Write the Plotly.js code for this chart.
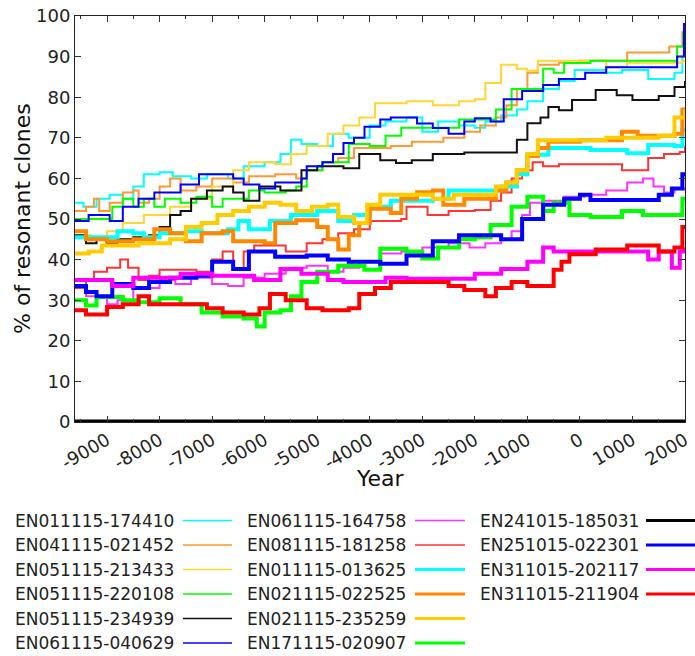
<!DOCTYPE html>
<html><head><meta charset="utf-8">
<script src="https://cdn.plot.ly/plotly-3.0.1.min.js"></script>
<style>html,body{margin:0;padding:0;background:#fff}#chart{width:695px;height:656px}</style>
</head><body><div id="chart"></div>
<script>
// ---------- data ----------
const seriesNames = [
  "EN011115-174410","EN041115-021452","EN051115-213433","EN051115-220108","EN051115-234939","EN061115-040629",
  "EN061115-164758","EN081115-181258","EN011115-013625","EN021115-022525","EN021115-235259","EN171115-020907",
  "EN241015-185031","EN251015-022301","EN311015-202117","EN311015-211904"
];
const xTickValues = [-9000,-8000,-7000,-6000,-5000,-4000,-3000,-2000,-1000,0,1000,2000];
const xTickLabels = ["-9000","-8000","-7000","-6000","-5000","-4000","-3000","-2000","-1000","0","1000","2000"];
const yTickValues = [0,10,20,30,40,50,60,70,80,90,100];
const xTitle = "Year";
const yTitle = "% of resonant clones";

const s01Years = [-9610,-9450,-9200,-8950,-8700,-8500,-8300,-8000,-7750,-7400,-7100,-6700,-6400,-6000,-5700,-5500,-5300,-5000,-4700,-4400,-4000,-3700,-3300,-3000,-2700,-2300,-2000,-1800,-1500,-1200,-1000,-700,-400,-100,200,500,800,1300,1800,1950,2000];
const s01Values = [54,53,55,56,55,58,61,61.5,60.5,60,61,60,63,64,66,69.5,68.5,68,71,70,73,74,75,71.5,74,73,72.5,74,75.5,77,79,82,84,86.7,86.7,86,86.7,84.5,86,90,90];

const s02Years = [-9610,-9400,-9250,-9150,-8950,-8700,-8500,-8400,-8200,-8000,-7800,-7600,-7300,-7000,-6600,-6300,-5800,-5400,-5200,-4900,-4600,-4300,-3600,-3200,-2600,-2200,-1900,-1600,-1400,-1200,-1000,-800,-400,0,600,900,1400,1700,1950,2000];
const s02Values = [52,53,55,52,54,56.5,57,54,55,58,60,57,58,60,59,60.5,61,60,62,64,65,67.5,68,69,70,71.5,73,75,78,82,86,88,88.5,89,89,91,91,92.5,96,96];

const s03Years = [-9610,-9300,-9000,-8700,-8300,-7800,-7400,-7000,-6600,-6300,-5800,-5500,-5200,-4800,-4500,-4200,-3900,-3300,-2800,-2300,-2000,-1800,-1500,-1200,-1000,-800,-300,500,900,1500,1950,2000];
const s03Values = [46,45,47,49,51,53,55,58,62,64,63.5,66,68,71,73,75,78.5,79,78,79,79.5,83.5,88,87,86.5,89,89,87.5,88.5,88.5,89,89];

const s04Years = [-9610,-9000,-8900,-8700,-8500,-8300,-8100,-7900,-7600,-7300,-7000,-6800,-6500,-6300,-6000,-5600,-5400,-5200,-4900,-4500,-4400,-4000,-3700,-3400,-2600,-2300,-1800,-1600,-1300,-900,-700,-500,-300,200,1700,1850,1970,2000];
const s04Values = [50,50,53,55,53,55,53,55,54,55.5,53,55,55,57,56.5,57,58,62,64,64,68.5,68,70.5,72.5,72.5,74.5,74.5,77,82,82,87,86,88.4,89,89,92.5,96,97];

const s05Years = [-9610,-9400,-9200,-9000,-8800,-8500,-8200,-8000,-7800,-7600,-7400,-7100,-6800,-6600,-6400,-6100,-5700,-5300,-5000,-4500,-4200,-3800,-3500,-3200,-2800,-2200,-1400,-1200,-1000,-750,-600,-400,-150,300,700,1000,1500,1800,1950,2000];
const s05Values = [46,44,45,44,45,45.5,46,48,51,52,55,57,58,56.5,54.5,58,57,62,63,62.5,66,64.5,63.8,64.5,66,66.4,66.4,69.5,73.6,75,77.6,76.8,79.3,81.8,80.5,79.3,80.3,82.5,82.5,84];

const s06Years = [-9610,-9350,-8950,-8700,-8400,-8100,-7600,-7250,-6600,-6400,-6100,-5800,-5300,-5200,-4900,-4700,-4500,-4300,-4100,-3800,-3600,-3100,-2800,-2500,-2200,-2000,-1700,-1450,-1100,-700,-400,100,500,1700,1850,1980,2000];
const s06Values = [49.5,51,49.5,53,55,56.5,58.5,61,60,58.5,57.5,59,60,63,64,66,68.7,70,72.7,74.5,75,73.5,72.4,71,74,74.8,74,79.5,81.5,83,84.5,86,87.4,87.4,90,98,98];

const s07Years = [-9610,-9400,-9200,-9000,-8800,-8500,-8200,-8000,-7700,-7400,-7000,-6700,-6400,-6000,-5600,-5200,-4800,-4500,-4200,-3800,-3400,-3000,-2500,-2100,-1800,-1500,-1300,-1100,-950,-700,-300,100,500,900,1200,1400,1600,1800,2000];
const s07Values = [33,31,31,29,30,33,33,35,34,35.5,34,33.5,35.5,36.5,38,38.5,37,38,39.5,41.5,42,43,44,43,44,45,47,51,54,54.5,55.5,56,57,59,60,58,56.5,57.5,57];

const s08Years = [-9610,-9400,-9250,-9000,-8750,-8600,-8400,-8200,-8000,-7600,-7300,-7000,-6800,-6600,-6400,-6200,-5800,-5600,-5200,-4900,-4600,-4300,-4000,-3400,-3300,-2900,-2500,-2000,-1700,-1500,-1300,-1100,-900,-700,-400,400,800,1100,1300,1600,1900,2000];
const s08Values = [33,35,37,38,40,38,35,36,37.5,37.5,37,40,42,37.5,42,43.5,43.5,42,44,45,46.5,47.5,49.5,50,53,51,52,52.2,54.5,56.5,60,62,64,63,63.5,63.5,62,62,65,66,66.5,68];

const s09Years = [-9610,-9000,-8800,-8500,-8300,-8000,-7500,-7200,-6700,-6500,-6300,-5900,-5500,-5000,-4600,-4300,-4000,-3600,-2800,-2500,-2000,-1500,-1200,-1000,-600,200,900,1300,1800,1950,2000];
const s09Values = [45.5,45.5,47,46.5,45.5,46.5,47,46.5,47.5,49.5,47.5,49.5,51,52,49.5,51,53,54.5,55,57,57,58,61,65.8,67.5,67,66.2,68.2,68,72,72];

const s10Years = [-9610,-9400,-9000,-8500,-8100,-7800,-7500,-7200,-6800,-6600,-6000,-5800,-5400,-5000,-4800,-4600,-4400,-4200,-4000,-3600,-3400,-3100,-2800,-2600,-2200,-1800,-1600,-1400,-1200,-1000,-800,-600,0,800,1100,1800,1950,2000];
const s10Values = [47,45,44.5,45,47.5,46.5,44.5,46.5,47,44.5,44,49,49.7,48,45,42.5,46,49,52.5,51.5,55,56.6,57,53.5,55,55,57,59,62,65.5,67.5,69,69.4,71.5,70.5,71,77,77];

const s11Years = [-9610,-9350,-9100,-8700,-8400,-8000,-7800,-7500,-7200,-6900,-6600,-6300,-6000,-5700,-5400,-5100,-4800,-4600,-4300,-4050,-3800,-3200,-2800,-2400,-1800,-1600,-1400,-1200,-1000,-800,0,500,1100,1500,1800,2000];
const s11Values = [41.5,42,43.5,43.5,44,44,45,48,49,51,52,53,54,53.5,52,53,53.5,50.5,49,53.5,56,56,55,56,56,58,59,62,66,69.4,69.4,70,70,70.5,75,77];

const s12Years = [-9610,-9400,-9200,-8700,-8400,-8000,-7600,-7200,-6800,-6400,-6150,-6000,-5700,-5500,-5300,-5000,-4600,-4100,-3800,-3300,-3000,-2700,-2300,-2000,-1700,-1300,-1000,-700,-500,-200,200,800,1200,1800,1950,2000];
const s12Values = [30,28.7,30.8,30,29.5,30.5,29,27,26,25.5,23.5,27,27.5,31,34.5,37,38.5,37.5,42.7,42,40.3,43,45,45.5,48.5,53,55.5,52,54,51,50.5,52,51,51,55,55];

const s13Years = [-9610,2000];
const s13Values = [0,0];

const s14Years = [-9610,-9400,-9200,-8900,-8500,-8200,-7800,-7300,-7000,-6600,-6300,-5800,-5200,-4800,-4400,-3800,-3300,-2800,-2300,-1500,-1100,-700,-300,0,200,1300,1500,1750,1950,2000];
const s14Values = [33.5,32,31,34,33,34.5,35.5,36,39.5,37.7,42,40.7,41,40,39.5,39,41,44.5,46,45,50,53.5,55,56,54.7,54.7,56,57.5,61,61];

const s15Years = [-9610,-9000,-8900,-8500,-8000,-7600,-7000,-6200,-5700,-5300,-4800,-4500,-3700,-3300,-2500,-2000,-1500,-1000,-700,-500,1000,1300,1500,1750,1900,2000];
const s15Values = [35,35,33.5,35.5,35.5,36.5,36,35,37.7,36.5,35,34.5,35.5,35.3,35.3,36.5,37.7,39.5,43,42,42,40,42,38,42,43];

const s16Years = [-9610,-9400,-9000,-8700,-8400,-8200,-7600,-7100,-6800,-6400,-6100,-5900,-5600,-5200,-4900,-4400,-4200,-3900,-3600,-2700,-2500,-2200,-1800,-1600,-1300,-1000,-500,-350,-200,300,900,1500,1800,1950,2000];
const s16Values = [27.5,26.5,28.3,29,31,29,29,28,27,26.5,28,31.5,30,28,27.5,28,31.5,33,34.5,34.5,33.5,32.5,31,33,34.5,33.5,37.5,39.5,41.3,42.5,43.5,42,43,48,48];

const allYears = [s01Years,s02Years,s03Years,s04Years,s05Years,s06Years,s07Years,s08Years,s09Years,s10Years,s11Years,s12Years,s13Years,s14Years,s15Years,s16Years];
const allValues = [s01Values,s02Values,s03Values,s04Values,s05Values,s06Values,s07Values,s08Values,s09Values,s10Values,s11Values,s12Values,s13Values,s14Values,s15Values,s16Values];

// ---------- styles ----------
const lineColors = ["#00FFFF","#FF9933","#FFD633","#00FF00","#111111","#0000FF","#FF33FF","#FF3333",
                    "#00FFFF","#FF8800","#FFCC00","#00FF00","#000000","#0000FF","#FF00FF","#FF0000"];
const isThick = [false,false,false,false,false,false,false,false,true,true,true,true,true,true,true,true];

const L = 75, W = 610, T = 16, H = 406;
const px = x => (x - L) / W;
const py = y => (T + H - y) / H;

const traces = allYears.map((yrs, i) => ({
  type: 'scatter', mode: 'lines', name: seriesNames[i],
  x: yrs, y: allValues[i],
  line: {shape: 'hv', color: lineColors[i], width: isThick[i] ? (i === 12 ? 5 : 4) : 2},
  showlegend: false, hoverinfo: 'skip'
}));

// custom legend: text on the left, line sample on the right
const colText = [14, 246, 479], colLine0 = [183, 415, 646], colLine1 = [232, 465, 702];
const annotations = [], shapes = [];
seriesNames.forEach((nm, i) => {
  const c = Math.floor(i / 6), r = i % 6;
  const yy = 520.5 + r * 24.5;
  annotations.push({xref:'paper', yref:'paper', x: px(colText[c]), y: py(yy), xanchor:'left', yanchor:'middle',
    text: nm, showarrow:false, borderpad:0, font:{family:'DejaVu Sans', size:17, color:'#222'}});
  shapes.push({type:'line', xref:'paper', yref:'paper', x0: px(colLine0[c]), x1: px(colLine1[c]), y0: py(yy), y1: py(yy),
    line:{color: lineColors[i], width: isThick[i] ? 3 : 1.5}});
});
// axis titles
annotations.push({xref:'paper', yref:'paper', x: px(380.5), y: py(478.5), xanchor:'center', yanchor:'middle',
  text: xTitle, showarrow:false, borderpad:0, font:{family:'DejaVu Sans', size:22, color:'#111'}});
annotations.push({xref:'paper', yref:'paper', x: px(22), y: py(219), xanchor:'center', yanchor:'middle', textangle:-90,
  text: yTitle, showarrow:false, borderpad:0, font:{family:'DejaVu Sans', size:22, color:'#111'}});

const minorVals = xTickValues.map(v => v - 500);

const layout = {
  width: 695, height: 656,
  margin: {l: L, r: 695 - L - W, t: T, b: 656 - T - H, pad: 0},
  paper_bgcolor: '#fff', plot_bgcolor: '#fff',
  font: {family: 'DejaVu Sans', size: 18, color: '#222'},
  showlegend: false,
  xaxis: {
    range: [-9610, 2000], tickmode: 'array', tickvals: xTickValues, ticktext: xTickLabels,
    tickangle: -30, ticks: 'inside', ticklen: 6, tickwidth: 1, tickcolor: '#333',
    showline: true, linecolor: '#222', linewidth: 1, mirror: 'ticks',
    showgrid: false, zeroline: false, automargin: false,
    tickfont: {size: 18, color: '#222'},
    minor: {tickmode: 'array', tickvals: minorVals, ticks: 'inside', ticklen: 3, tickcolor: '#333', showgrid: false}
  },
  yaxis: {
    range: [0, 100], tickmode: 'array', tickvals: yTickValues,
    ticks: 'inside', ticklen: 6, tickwidth: 1, tickcolor: '#333',
    showline: true, linecolor: '#222', linewidth: 1, mirror: 'ticks',
    showgrid: false, zeroline: false, automargin: false,
    tickfont: {size: 18, color: '#222'}
  },
  annotations: annotations,
  shapes: shapes
};

Plotly.newPlot('chart', traces, layout, {staticPlot: true, displayModeBar: false});
</script>
</body></html>
